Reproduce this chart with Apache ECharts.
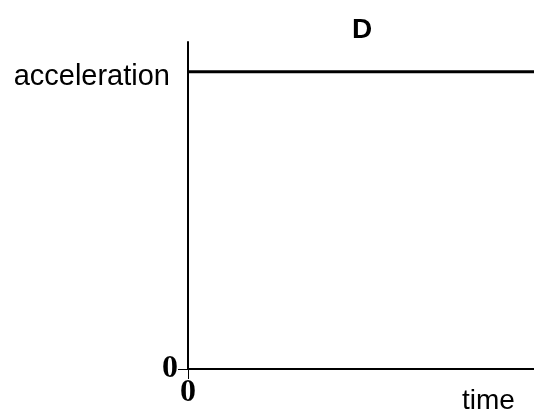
<!DOCTYPE html>
<html>
<head>
<meta charset="utf-8">
<script src="https://cdn.jsdelivr.net/npm/echarts@6/dist/echarts.min.js"></script>
<style>
  html, body { margin: 0; padding: 0; background: #fff; }
  #chart_div { width: 534px; height: 415px; }
</style>
</head>
<body>
<div id="chart_div"></div>
<script>
// graph D: constant acceleration over time
const times = [0, 10];
const accel = [1, 1];
const yTickValues = [0, 1];
const yTickLabels = ["0", "acceleration"];
const xTickValues = [0];
const xTickLabels = ["0"];

const myChart = echarts.init(document.getElementById("chart_div"));

const option = {
  animation: false,
  title: {
    text: "D",
    left: 357,
    top: 11,
    textAlign: "center",
    textStyle: {
      color: "#000",
      fontSize: 28,
      fontWeight: "bold",
      fontFamily: "Liberation Sans"
    }
  },
  grid: {
    left: 188,
    right: 0,
    top: 42,
    bottom: 46
  },
  xAxis: {
    type: "value",
    min: 0,
    max: 10,
    name: "time",
    nameLocation: "end",
    nameGap: -72,
    nameTextStyle: {
      color: "#000",
      fontSize: 28,
      fontFamily: "Liberation Sans",
      verticalAlign: "top",
      padding: [18, 0, 0, 0]
    },
    splitLine: { show: false },
    axisLine: { lineStyle: { color: "#000", width: 2 } },
    axisTick: {
      length: 10,
      lineStyle: { color: "#000", width: 1 },
      customValues: xTickValues
    },
    axisLabel: {
      customValues: xTickValues,
      margin: 8,
      color: "#000",
      fontSize: 32,
      fontWeight: "bold",
      fontFamily: "Liberation Serif",
      formatter: (v) => xTickLabels[xTickValues.indexOf(v)]
    }
  },
  yAxis: {
    type: "value",
    min: 0,
    max: 1.1,
    splitLine: { show: false },
    axisLine: { lineStyle: { color: "#000", width: 2 } },
    axisTick: {
      length: 10,
      lineStyle: { color: "#000", width: 1 },
      customValues: [0]
    },
    axisLabel: {
      customValues: yTickValues,
      margin: 10,
      formatter: (v) => {
        const s = yTickLabels[yTickValues.indexOf(v)];
        return v === 0 ? "{zero|" + s + "}" : "{word|" + s + "}";
      },
      rich: {
        zero: {
          color: "#000",
          fontSize: 32,
          fontWeight: "bold",
          fontFamily: "Liberation Serif"
        },
        word: {
          color: "#000",
          fontSize: 29,
          fontFamily: "Liberation Sans",
          padding: [10, 8, 0, 0]
        }
      }
    }
  },
  series: [
    {
      type: "line",
      silent: true,
      symbol: "none",
      data: times.map((t, i) => [t, accel[i]]),
      lineStyle: { color: "#000", width: 3 }
    }
  ]
};
myChart.setOption(option);
</script>
</body>
</html>
